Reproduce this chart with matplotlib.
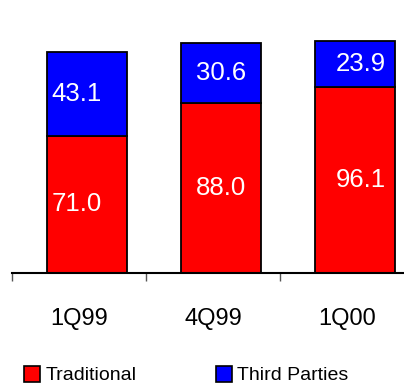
import matplotlib
matplotlib.use("Agg")
import matplotlib.pyplot as plt
from matplotlib.patches import Patch
import numpy as np

plt.rcParams['font.family'] = ['Liberation Sans', 'DejaVu Sans']

categories = ["1Q99", "4Q99", "1Q00"]
traditional = [71.0, 88.0, 96.1]
third_parties = [43.1, 30.6, 23.9]
series_names = ["Traditional", "Third Parties"]
colors = ["#FF0000", "#0000FF"]

W, H = 404, 385
fig = plt.figure(figsize=(W / 100, H / 100), dpi=100)
ax_left, ax_bottom, ax_top = 12, 273, 0
ax = fig.add_axes([ax_left / W, 1 - ax_bottom / H, 402 / W, (ax_bottom - ax_top) / H])

x = np.arange(len(categories))
xb = x + 0.06
width = 0.6
trad = np.array(traditional)
third = np.array(third_parties)

ax.bar(xb, trad, width, color=colors[0], edgecolor="black", linewidth=1.3, zorder=2)
ax.bar(xb, third, width, bottom=trad, color=colors[1], edgecolor="black", linewidth=1.3, zorder=2)

label_dx = [-0.08, 0.0, 0.04]
for xi, dx, t, p in zip(xb, label_dx, trad, third):
    ax.text(xi + dx, t / 2, f"{t:.1f}", color="white", ha="center", va="center", fontsize=18.5)
    ax.text(xi + dx, t + p / 2, f"{p:.1f}", color="white", ha="center", va="center", fontsize=18.5)

ax.set_xlim(-0.5, -0.5 + 392 / 134)
ax.set_ylim(0, 141)
for s in ["left", "right", "top"]:
    ax.spines[s].set_visible(False)
ax.spines["bottom"].set_linewidth(1.5)
ax.set_yticks([])
ax.set_xticks(x)
ax.set_xticklabels(categories, fontsize=17)
ax.tick_params(axis="x", which="major", length=0, pad=25)
ax.set_xticks(np.arange(-0.5, len(categories), 1.0), minor=True)
ax.tick_params(axis="x", which="minor", length=6, width=1, color="#555555", direction="out")

h1 = Patch(facecolor=colors[0], edgecolor="black", linewidth=1.2)
h2 = Patch(facecolor=colors[1], edgecolor="black", linewidth=1.2)
common = dict(loc="lower left", frameon=False, fontsize=14, handlelength=0.8, handleheight=0.85,
              handletextpad=0.3, borderpad=0.0, borderaxespad=0.0)
fig.legend([h1], [series_names[0]], bbox_to_anchor=(24 / W, 0.5 / H), **common)
fig.legend([h2], [series_names[1]], bbox_to_anchor=(216 / W, 0.5 / H), **common)

fig.savefig("out.png", dpi=100)
